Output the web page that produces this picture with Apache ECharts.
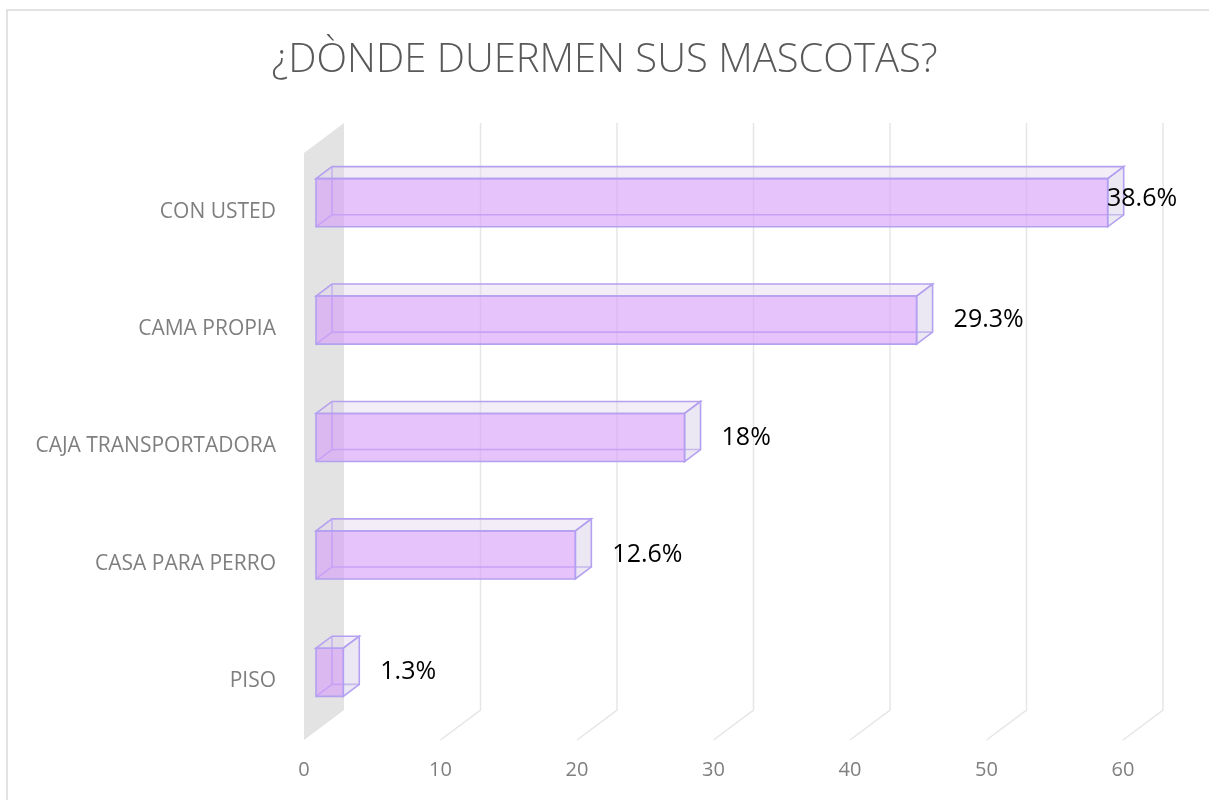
<!DOCTYPE html>
<html>
<head>
<meta charset="utf-8">
<script src="https://cdn.jsdelivr.net/npm/echarts@6/dist/echarts.min.js"></script>
<style>
html,body{margin:0;padding:0;background:#fff;}
#chart{width:1209px;height:800px;}
</style>
</head>
<body>
<div id="chart"></div>
<script>
const title = '¿DÒNDE DUERMEN SUS MASCOTAS?';
const categories = ['CON USTED', 'CAMA PROPIA', 'CAJA TRANSPORTADORA', 'CASA PARA PERRO', 'PISO'];
const values = [58, 44, 27, 19, 2];
const valueLabels = ['38.6%', '29.3%', '18%', '12.6%', '1.3%'];
const axisTicks = [0, 10, 20, 30, 40, 50, 60];

const FONT = '"Open Sans", "DejaVu Sans", sans-serif';
const DX = 16, DY = -12;          // bar depth
const FLOOR_FRONT = [-12, 9];     // front of floor relative to bar front plane
const FLOOR_BACK = [28, -21];     // back wall relative to bar front plane

const chart = echarts.init(document.getElementById('chart'), null, {renderer: 'canvas'});

function renderGrid(params, api) {
  const v = api.value(0);
  const cs = params.coordSys;
  const p = api.coord([v, 0]);
  const x = p[0];
  const bottom = cs.y + cs.height;
  const top = cs.y;
  if (v === 0) {
    return {
      type: 'polygon',
      shape: {points: [
        [x + FLOOR_FRONT[0], top + FLOOR_FRONT[1]],
        [x + FLOOR_BACK[0], top + FLOOR_BACK[1]],
        [x + FLOOR_BACK[0], bottom + FLOOR_BACK[1]],
        [x + FLOOR_FRONT[0], bottom + FLOOR_FRONT[1]]
      ]},
      style: {fill: '#e3e3e3'}
    };
  }
  return {
    type: 'polyline',
    shape: {points: [
      [x + FLOOR_FRONT[0], bottom + FLOOR_FRONT[1]],
      [x + FLOOR_BACK[0], bottom + FLOOR_BACK[1]],
      [x + FLOOR_BACK[0], top + FLOOR_BACK[1]]
    ]},
    style: {stroke: '#e6e6e6', lineWidth: 1.5, fill: null}
  };
}

function renderBar(params, api) {
  const v = api.value(0);
  const idx = api.value(1);
  const cs = params.coordSys;
  const p0 = api.coord([0, idx]);
  const p1 = api.coord([v, idx]);
  const band = api.size([0, 1])[1];
  const h = band * 0.41;
  const x0 = p0[0], x1 = p1[0];
  const yt = p0[1] - h / 2, yb = yt + h;
  const edge = '#b4a0f0';
  const lw = 1.6;
  const children = [
    {type: 'polyline', shape: {points: [[x0 + DX, yt + DY], [x0 + DX, yb + DY], [x1 + DX, yb + DY]]},
     style: {stroke: edge, lineWidth: lw, fill: null}},
    {type: 'line', shape: {x1: x0, y1: yb, x2: x0 + DX, y2: yb + DY},
     style: {stroke: edge, lineWidth: lw}},
    {type: 'polygon', shape: {points: [[x0, yt], [x0 + DX, yt + DY], [x1 + DX, yt + DY], [x1, yt]]},
     style: {fill: 'rgba(225,210,235,0.4)', stroke: edge, lineWidth: lw}},
    {type: 'polygon', shape: {points: [[x1, yt], [x1 + DX, yt + DY], [x1 + DX, yb + DY], [x1, yb]]},
     style: {fill: 'rgba(215,210,232,0.5)', stroke: edge, lineWidth: lw}},
    {type: 'rect', shape: {x: x0, y: yt, width: x1 - x0, height: h},
     style: {fill: 'rgba(214,160,248,0.62)', stroke: edge, lineWidth: lw}},
    {type: 'text',
     x: Math.min(x1 + DX + 21, cs.x + cs.width - 28),
     y: p0[1] + (params.dataIndex === 0 ? -4 : 0),
     style: {text: valueLabels[params.dataIndex], fill: '#000', font: '25px ' + FONT,
             align: 'left', verticalAlign: 'middle'}}
  ];
  return {type: 'group', children: children};
}

const option = {
  backgroundColor: '#fff',
  animation: false,
  title: {
    text: title, left: 'center', top: 36,
    textStyle: {fontFamily: FONT, fontSize: 40, fontWeight: 300, color: '#595959'}
  },
  graphic: [
    {type: 'polyline', shape: {points: [[7, 800], [7, 10], [1209, 10]]},
     style: {stroke: '#d9d9d9', lineWidth: 1.5, fill: null}, z: 0}
  ],
  grid: [
    {left: 316, top: 144, width: 819, height: 587},
    {left: 304, top: 153, width: 819, height: 587}
  ],
  xAxis: [
    {gridIndex: 0, type: 'value', min: 0, max: 60, interval: 10, show: false},
    {gridIndex: 1, type: 'value', min: 0, max: 60, interval: 10,
     axisLine: {show: false}, axisTick: {show: false}, splitLine: {show: false},
     axisLabel: {margin: 20, color: '#7f7f7f', fontSize: 20, fontFamily: FONT}}
  ],
  yAxis: [
    {gridIndex: 0, type: 'category', data: categories, inverse: true, show: false},
    {gridIndex: 1, type: 'category', data: categories, inverse: true,
     axisLine: {show: false}, axisTick: {show: false}, splitLine: {show: false},
     axisLabel: {margin: 28, color: '#7f7f7f', fontSize: 21, fontFamily: FONT, padding: [6, 0, 0, 0]}}
  ],
  series: [
    {type: 'custom', xAxisIndex: 0, yAxisIndex: 0, z: 1,
     data: axisTicks.map(t => [t, 0]), renderItem: renderGrid, silent: true,
     encode: {x: 0, y: 1}},
    {type: 'custom', xAxisIndex: 0, yAxisIndex: 0, z: 2,
     data: values.map((v, i) => [v, i]), renderItem: renderBar,
     encode: {x: 0, y: 1}}
  ]
};
chart.setOption(option);
</script>
</body>
</html>
